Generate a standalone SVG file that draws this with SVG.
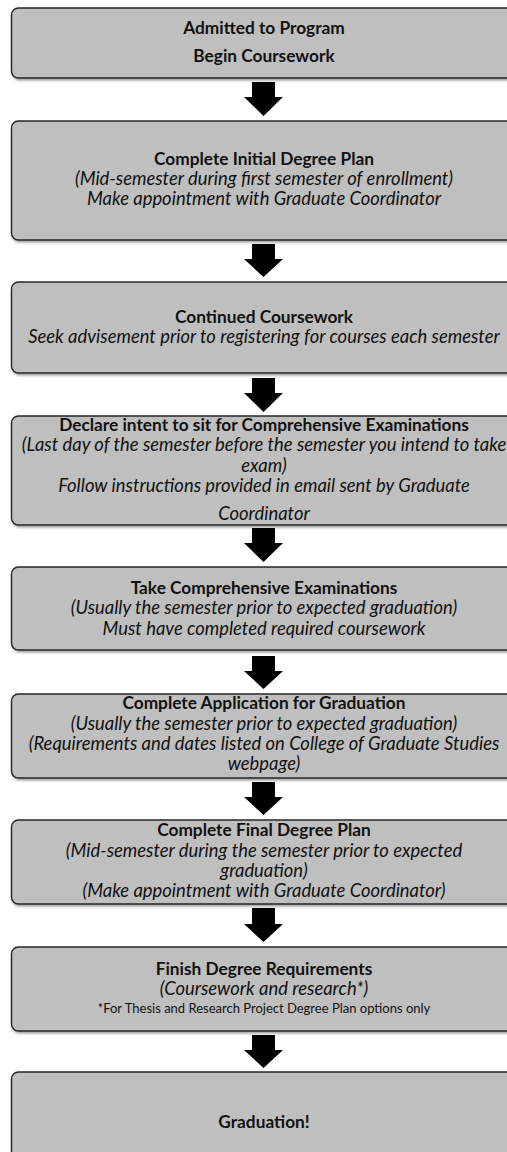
<svg xmlns="http://www.w3.org/2000/svg" width="507" height="1152" viewBox="0 0 507 1152">
<defs>
<filter id="sh" x="-5%" y="-10%" width="110%" height="130%">
<feDropShadow dx="1" dy="2" stdDeviation="1.2" flood-color="#000" flood-opacity="0.35"/>
</filter>
<style>
.box{fill:#bfbfbf;stroke:#262626;stroke-width:1.4;filter:url(#sh)}
.arr{fill:#000}
text{font-family:Lato,"Liberation Sans",sans-serif;fill:#111;text-anchor:middle}
.b{font-weight:bold;font-size:17.3px}
.i{font-style:italic;font-size:18.4px}
.s{font-size:13px}
</style>
</defs>
<rect width="507" height="1152" fill="#fff"/>
<g id="connectors">
<path class="arr" d="M252,82H275V97H283L263.5,116L244,97H252Z"/>
<path class="arr" d="M252,244H275V259H283L263.5,277L244,259H252Z"/>
<path class="arr" d="M252,378H275V393H283L263.5,412L244,393H252Z"/>
<path class="arr" d="M252,528H275V543H283L263.5,562L244,543H252Z"/>
<path class="arr" d="M252,656H275V671H283L263.5,689L244,671H252Z"/>
<path class="arr" d="M252,782H275V797H283L263.5,815L244,797H252Z"/>
<path class="arr" d="M252,908H275V924H283L263.5,942L244,924H252Z"/>
<path class="arr" d="M252,1035H275V1050H283L263.5,1068L244,1050H252Z"/>
</g>
<g id="n1">
<rect class="box" x="11.5" y="8" width="506" height="70" rx="7"/>
<text class="b" x="264" y="34">Admitted to Program</text>
<text class="b" x="264" y="62">Begin Coursework</text>
</g>
<g id="n2">
<rect class="box" x="11.5" y="121" width="506" height="119" rx="7"/>
<text class="b" x="264" y="165">Complete Initial Degree Plan</text>
<text class="i" x="264" y="185">(Mid-semester during first semester of enrollment)</text>
<text class="i" x="264" y="205">Make appointment with Graduate Coordinator</text>
</g>
<g id="n3">
<rect class="box" x="11.5" y="282" width="506" height="91" rx="7"/>
<text class="b" x="264" y="323">Continued Coursework</text>
<text class="i" x="264" y="343">Seek advisement prior to registering for courses each semester</text>
</g>
<g id="n4">
<rect class="box" x="11.5" y="416" width="506" height="109" rx="7"/>
<text class="b" x="264" y="431">Declare intent to sit for Comprehensive Examinations</text>
<text class="i" x="264" y="451">(Last day of the semester before the semester you intend to take</text>
<text class="i" x="264" y="472">exam)</text>
<text class="i" x="264" y="492">Follow instructions provided in email sent by Graduate</text>
<text class="i" x="264" y="520">Coordinator</text>
</g>
<g id="n5">
<rect class="box" x="11.5" y="567" width="506" height="83" rx="7"/>
<text class="b" x="264" y="594">Take Comprehensive Examinations</text>
<text class="i" x="264" y="614">(Usually the semester prior to expected graduation)</text>
<text class="i" x="264" y="635">Must have completed required coursework</text>
</g>
<g id="n6">
<rect class="box" x="11.5" y="694" width="506" height="84" rx="7"/>
<text class="b" x="264" y="709">Complete Application for Graduation</text>
<text class="i" x="264" y="730">(Usually the semester prior to expected graduation)</text>
<text class="i" x="264" y="750">(Requirements and dates listed on College of Graduate Studies</text>
<text class="i" x="264" y="770">webpage)</text>
</g>
<g id="n7">
<rect class="box" x="11.5" y="820" width="506" height="84" rx="7"/>
<text class="b" x="264" y="836">Complete Final Degree Plan</text>
<text class="i" x="264" y="857">(Mid-semester during the semester prior to expected</text>
<text class="i" x="264" y="877">graduation)</text>
<text class="i" x="264" y="897">(Make appointment with Graduate Coordinator)</text>
</g>
<g id="n8">
<rect class="box" x="11.5" y="947" width="506" height="84" rx="7"/>
<text class="b" x="264" y="975">Finish Degree Requirements</text>
<text class="i" x="264" y="995">(Coursework and research*)</text>
<text class="s" x="264" y="1013">*For Thesis and Research Project Degree Plan options only</text>
</g>
<g id="n9">
<rect class="box" x="11.5" y="1072" width="506" height="100" rx="7"/>
<text class="b" x="264" y="1128">Graduation!</text>
</g>
</svg>
